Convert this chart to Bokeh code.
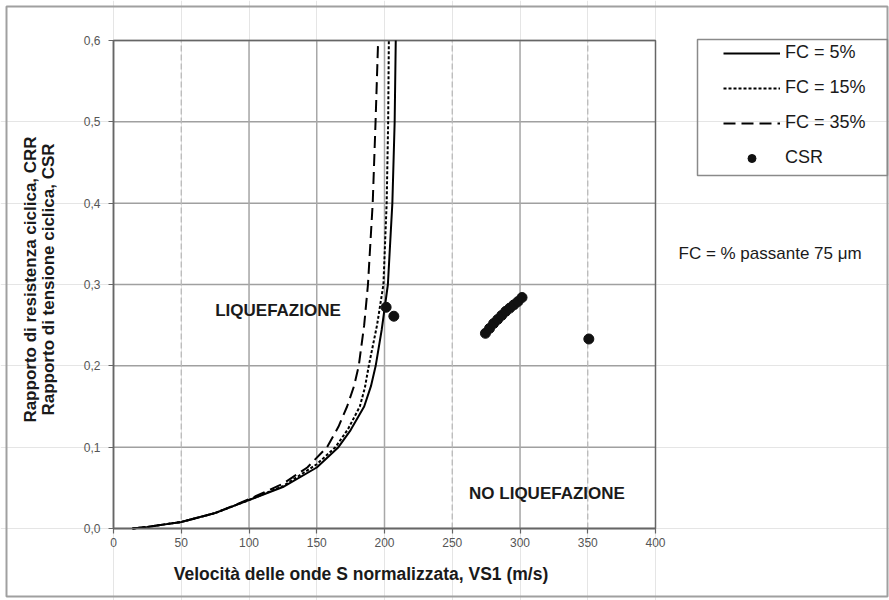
from math import pi

from bokeh.plotting import figure
from bokeh.models import (Range1d, FixedTicker, CustomJSTickFormatter, Legend,
                          LegendItem, Label, LinearAxis, BasicTickFormatter)
from bokeh.embed import file_html
from bokeh.resources import INLINE

FONT = "Liberation Sans"

# CRR curves (Vs1 in m/s, CRR) for three fines contents
vs_fc5 = [14, 25, 50, 75, 100, 125, 150, 166, 175, 185, 190, 193.5, 198, 202.5, 205.8, 207.5, 208.3]
crr_fc5 = [0.0, 0.002, 0.008, 0.019, 0.035, 0.051, 0.075, 0.100, 0.121, 0.150, 0.175, 0.200, 0.245, 0.300, 0.400, 0.500, 0.600]

vs_fc15 = [14, 25, 50, 75, 100, 125, 150, 163.8, 173, 181.8, 185.5, 188.4, 194.5, 199.2, 201.6, 202.7, 203.2]
crr_fc15 = [0.0, 0.002, 0.008, 0.019, 0.035, 0.052, 0.079, 0.100, 0.122, 0.150, 0.173, 0.200, 0.250, 0.300, 0.400, 0.500, 0.600]

vs_fc35 = [14, 25, 50, 75, 100, 125, 143, 157.6, 166, 172.4, 177.5, 181, 185, 187.8, 191.3, 193.4, 195.3]
crr_fc35 = [0.0, 0.002, 0.008, 0.019, 0.036, 0.055, 0.075, 0.100, 0.125, 0.150, 0.175, 0.200, 0.250, 0.300, 0.400, 0.500, 0.600]

# Cyclic stress ratio at the investigated depths
csr_vs = [201.2, 206.9, 274.5, 277.5, 280.5, 283.5, 286.5, 289.5, 292.5, 295.5, 298.5, 301.5, 350.8]
csr_val = [0.272, 0.261, 0.240, 0.246, 0.252, 0.257, 0.262, 0.267, 0.271, 0.275, 0.279, 0.284, 0.233]

x_ticks = [0, 50, 100, 150, 200, 250, 300, 350, 400]
y_ticks = [0.0, 0.1, 0.2, 0.3, 0.4, 0.5, 0.6]
x_grid_solid = [100, 150, 200, 300]
x_grid_dashed = [50, 250, 350]

series_labels = ["FC = 5%", "FC = 15%", "FC = 35%", "CSR"]

# canvas geometry: the plotting area occupies these pixels of the 889x600 canvas
LEFT, RIGHT, TOP, BOTTOM = 113, 655, 40, 528
W, H = 889, 600
X0, X1, Y0, Y1 = 0, 400, 0.0, 0.6


def dx(px):
    """canvas x pixel -> data x"""
    return X0 + (px - LEFT) * (X1 - X0) / (RIGHT - LEFT)


def dy(py):
    """canvas y pixel -> data y"""
    return Y0 + (BOTTOM - py) * (Y1 - Y0) / (BOTTOM - TOP)


# the frame covers the whole canvas so that legend and texts outside the
# plotting area are not clipped; axes are pinned with fixed_location
p = figure(width=W, height=H, output_backend="svg", toolbar_location=None,
           title=None, x_axis_location=None, y_axis_location=None,
           x_range=Range1d(dx(0), dx(W)), y_range=Range1d(dy(H), dy(0)),
           min_border=0, min_border_left=0, min_border_right=0,
           min_border_top=0, min_border_bottom=0,
           background_fill_color="white", border_fill_color="white")
p.outline_line_color = None

# outer frame of the figure
p.quad(left=[dx(6)], right=[dx(887)], bottom=[dy(596)], top=[dy(6)],
       fill_alpha=0, line_color="#a0a0a0", line_width=2)

# grid lines limited to the plotting area
p.segment(x0=[X0] * len(y_ticks), x1=[X1] * len(y_ticks), y0=y_ticks, y1=y_ticks,
          line_color="#a0a0a0", line_width=1.5)
p.segment(x0=x_grid_solid, x1=x_grid_solid, y0=[Y0] * len(x_grid_solid), y1=[Y1] * len(x_grid_solid),
          line_color="#a8a8a8", line_width=1.5)
p.segment(x0=x_grid_dashed, x1=x_grid_dashed, y0=[Y0] * len(x_grid_dashed), y1=[Y1] * len(x_grid_dashed),
          line_color="#b8b8b8", line_width=1.3, line_dash="6 3")

# plotting area border
p.quad(left=[X0], right=[X1], bottom=[Y0], top=[Y1],
       fill_alpha=0, line_color="#666666", line_width=1.5)

# axes
xaxis = LinearAxis(fixed_location=Y0, bounds=(X0, X1), ticker=FixedTicker(ticks=x_ticks),
                   formatter=BasicTickFormatter())
yaxis = LinearAxis(fixed_location=X0, bounds=(Y0, Y1), ticker=FixedTicker(ticks=y_ticks),
                   formatter=CustomJSTickFormatter(code="return tick.toFixed(1).replace('.', ',');"))
for ax in (xaxis, yaxis):
    ax.axis_line_color = "#666666"
    ax.axis_line_width = 1.5
    ax.major_tick_line_color = "#666666"
    ax.major_tick_line_width = 1.2
    ax.major_tick_out = 5
    ax.major_tick_in = 0
    ax.minor_tick_line_color = None
    ax.major_label_text_font = FONT
    ax.major_label_text_font_size = "12px"
    ax.major_label_text_color = "#555555"
xaxis.major_label_standoff = 4
yaxis.major_label_standoff = 8
p.add_layout(xaxis, "below")
p.add_layout(yaxis, "left")

# curves
r5 = p.line(vs_fc5, crr_fc5, line_color="black", line_width=2)
r15 = p.line(vs_fc15, crr_fc15, line_color="black", line_width=2, line_dash="3 2")
r35 = p.line(vs_fc35, crr_fc35, line_color="black", line_width=2, line_dash="12 6")
rcsr = p.scatter(csr_vs, csr_val, marker="circle", size=10,
                 fill_color="#111111", line_color="#111111")

# legend and its frame
p.quad(left=[dx(697)], right=[dx(887)], bottom=[dy(175)], top=[dy(39)],
       fill_alpha=0, line_color="#8a8a8a", line_width=1.5)
legend = Legend(items=[LegendItem(label=series_labels[0], renderers=[r5]),
                       LegendItem(label=series_labels[1], renderers=[r15]),
                       LegendItem(label=series_labels[2], renderers=[r35]),
                       LegendItem(label=series_labels[3], renderers=[rcsr])],
                location=(716, H - 175), padding=7, spacing=14, margin=0,
                glyph_width=57, glyph_height=20, label_height=20,
                label_standoff=5, border_line_alpha=0, background_fill_alpha=0,
                label_text_font=FONT, label_text_font_size="18px",
                label_text_color="#1a1a1a")
p.add_layout(legend)


def add_label(x, y, text, bold=False, size="17px", align="center", angle=0.0):
    p.add_layout(Label(x=x, y=y, text=text, text_font=FONT, text_font_size=size,
                       text_font_style="bold" if bold else "normal",
                       text_color="#1a1a1a", text_align=align,
                       text_baseline="middle", angle=angle))


add_label(121.4, 0.268, "LIQUEFAZIONE", bold=True)
add_label(319.9, 0.043, "NO LIQUEFAZIONE", bold=True)
add_label(dx(678), dy(253), "FC = % passante 75 μm", align="left")
add_label(dx(360.5), dy(573), "Velocità delle onde S normalizzata, VS1 (m/s)", bold=True, size="17.5px")
add_label(dx(29.5), dy(279), "Rapporto di resistenza ciclica, CRR", bold=True, angle=pi / 2)
add_label(dx(47.5), dy(279), "Rapporto di tensione ciclica, CSR", bold=True, angle=pi / 2)

with open("out.html", "w") as f:
    f.write(file_html(p, INLINE))
